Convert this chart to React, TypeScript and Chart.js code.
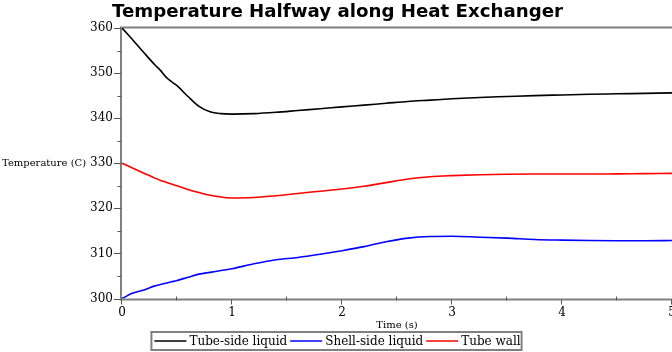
import { useEffect, useRef } from 'react';
import { Chart, registerables } from 'chart.js';

Chart.register(...registerables);

const chartTitle = 'Temperature Halfway along Heat Exchanger';
const xAxisTitle = 'Time (s)';
const yAxisTitle = 'Temperature (C)';

const times = [0, 0.1, 0.2, 0.3, 0.35, 0.4, 0.45, 0.5, 0.6, 0.7, 0.8, 0.9, 1.0, 1.2, 1.4, 1.6, 1.8, 2.0, 2.2, 2.4, 2.6, 2.8, 3.0, 3.25, 3.5, 3.75, 4.0, 4.25, 4.5, 4.75, 5.0];

const tubeSideLiquid = [360, 357.3, 354.5, 351.8, 350.6, 349.1, 348.1, 347.2, 344.8, 342.6, 341.4, 341.0, 340.9, 341.0, 341.3, 341.7, 342.1, 342.5, 342.9, 343.3, 343.7, 344.0, 344.3, 344.6, 344.8, 345.0, 345.15, 345.3, 345.4, 345.5, 345.6];

const shellSideLiquid = [300, 301.2, 301.9, 302.8, 303.1, 303.4, 303.7, 304.0, 304.7, 305.4, 305.8, 306.2, 306.6, 307.7, 308.6, 309.1, 309.8, 310.6, 311.5, 312.6, 313.4, 313.75, 313.8, 313.6, 313.4, 313.1, 312.95, 312.85, 312.8, 312.8, 312.85];

const tubeWall = [330, 328.9, 327.8, 326.7, 326.2, 325.8, 325.4, 325.0, 324.2, 323.5, 322.9, 322.5, 322.3, 322.4, 322.8, 323.3, 323.8, 324.3, 324.9, 325.7, 326.5, 327.0, 327.25, 327.45, 327.55, 327.6, 327.6, 327.6, 327.65, 327.7, 327.75];

const seriesNames = ['Tube-side liquid', 'Shell-side liquid', 'Tube wall'];
const seriesColors = ['#000000', '#0000ff', '#ff0000'];

const xMajorTicks = [0, 1, 2, 3, 4, 5];
const xMinorTicks = [0.5, 1.5, 2.5, 3.5, 4.5];
const yMajorTicks = [300, 310, 320, 330, 340, 350, 360];
const yMinorTicks = [305, 315, 325, 335, 345, 355];

const AXIS_GRAY = '#808080';
const TICK_GRAY = '#555555';
const SERIF = '"DejaVu Serif", serif';

const decorPlugin = {
  id: 'decor',
  beforeDatasetsDraw(chart: any) {
    const { ctx, chartArea } = chart;
    const { left, top, bottom } = chartArea;
    ctx.save();
    ctx.strokeStyle = AXIS_GRAY;
    ctx.lineWidth = 2;
    ctx.beginPath();
    ctx.moveTo(left - 1, top - 0.5);
    ctx.lineTo(chart.width, top - 0.5);
    ctx.moveTo(left - 1, top - 1.5);
    ctx.lineTo(left - 1, bottom + 1.5);
    ctx.moveTo(left - 2, bottom + 1);
    ctx.lineTo(chart.width, bottom + 1);
    ctx.stroke();
    ctx.restore();
  },
  afterDatasetsDraw(chart: any) {
    const { ctx, chartArea, scales } = chart;
    const { left, right, bottom } = chartArea;
    const xs = scales.x;
    const ys = scales.y;
    ctx.save();
    // ticks
    ctx.strokeStyle = TICK_GRAY;
    ctx.lineWidth = 1;
    ctx.beginPath();
    yMajorTicks.forEach((v) => {
      const y = Math.round(ys.getPixelForValue(v)) + 0.5;
      ctx.moveTo(left - 8, y);
      ctx.lineTo(left - 1, y);
    });
    yMinorTicks.forEach((v) => {
      const y = Math.round(ys.getPixelForValue(v)) + 0.5;
      ctx.moveTo(left - 4.5, y);
      ctx.lineTo(left - 1, y);
    });
    xMajorTicks.forEach((v) => {
      const x = Math.round(xs.getPixelForValue(v)) - 0.5;
      ctx.moveTo(x, bottom + 1);
      ctx.lineTo(x, bottom + 6);
    });
    xMinorTicks.forEach((v) => {
      const x = Math.round(xs.getPixelForValue(v)) - 0.5;
      ctx.moveTo(x, bottom - 2);
      ctx.lineTo(x, bottom + 2);
    });
    ctx.stroke();

    // tick labels
    ctx.fillStyle = '#000';
    ctx.font = `12px ${SERIF}`;
    ctx.textAlign = 'right';
    ctx.textBaseline = 'middle';
    yMajorTicks.forEach((v) => {
      ctx.fillText(String(v), left - 9, ys.getPixelForValue(v));
    });
    ctx.textAlign = 'center';
    ctx.textBaseline = 'middle';
    xMajorTicks.forEach((v) => {
      ctx.fillText(String(v), xs.getPixelForValue(v), bottom + 14);
    });

    // axis titles
    ctx.font = `10px ${SERIF}`;
    ctx.textAlign = 'left';
    ctx.fillText(yAxisTitle, 2, ys.getPixelForValue(330));
    ctx.textAlign = 'center';
    ctx.fillText(xAxisTitle, (left + right) / 2, bottom + 27);

    // title
    ctx.font = 'bold 18.2px "DejaVu Sans", sans-serif';
    ctx.textAlign = 'center';
    ctx.textBaseline = 'alphabetic';
    ctx.fillText(chartTitle, 337.5, 17);

    // legend
    ctx.font = `12px ${SERIF}`;
    const lineLen = 32;
    const gapLT = 3;
    const gapItems = 3;
    const padL = 3;
    const padR = 1;
    const widths = seriesNames.map((n) => ctx.measureText(n).width);
    let total = padL + padR + gapItems * (seriesNames.length - 1);
    widths.forEach((w) => (total += lineLen + gapLT + w));
    const boxLeft = 336.5 - total / 2;
    const boxTop = 332;
    const boxH = 18;
    ctx.strokeStyle = AXIS_GRAY;
    ctx.lineWidth = 2;
    ctx.strokeRect(boxLeft, boxTop, total, boxH);
    const cy = boxTop + boxH / 2;
    let x = boxLeft + padL;
    ctx.textAlign = 'left';
    ctx.textBaseline = 'middle';
    seriesNames.forEach((n, i) => {
      ctx.strokeStyle = seriesColors[i];
      ctx.lineWidth = 1.6;
      ctx.beginPath();
      ctx.moveTo(x, cy);
      ctx.lineTo(x + lineLen, cy);
      ctx.stroke();
      x += lineLen + gapLT;
      ctx.fillStyle = '#000';
      ctx.fillText(n, x, cy + 0.5);
      x += widths[i] + gapItems;
    });
    ctx.restore();
  },
};

export default function App() {
  const canvasRef = useRef<HTMLCanvasElement | null>(null);

  useEffect(() => {
    const canvas = canvasRef.current;
    if (!canvas) return;
    const series = [tubeSideLiquid, shellSideLiquid, tubeWall];
    const chart = new Chart(canvas, {
      type: 'line',
      data: {
        datasets: series.map((vals, i) => ({
          label: seriesNames[i],
          data: times.map((t, j) => ({ x: t, y: vals[j] })),
          borderColor: seriesColors[i],
          borderWidth: 1.6,
          pointRadius: 0,
          tension: 0.4,
          cubicInterpolationMode: 'monotone' as const,
          fill: false,
        })),
      },
      options: {
        responsive: false,
        animation: false,
        devicePixelRatio: 1,
        layout: { padding: { left: 122, top: 28, right: 0, bottom: 53.5 } },
        scales: {
          x: { type: 'linear', min: 0, max: 5, display: false },
          y: { type: 'linear', min: 300, max: 360, display: false },
        },
        plugins: {
          legend: { display: false },
          title: { display: false },
          tooltip: { enabled: false },
        },
      },
      plugins: [decorPlugin],
    });
    return () => chart.destroy();
  }, []);

  return (
    <canvas
      ref={canvasRef}
      width={672}
      height={352}
      style={{ position: 'absolute', left: 0, top: 0, width: 672, height: 352, display: 'block' }}
    />
  );
}
